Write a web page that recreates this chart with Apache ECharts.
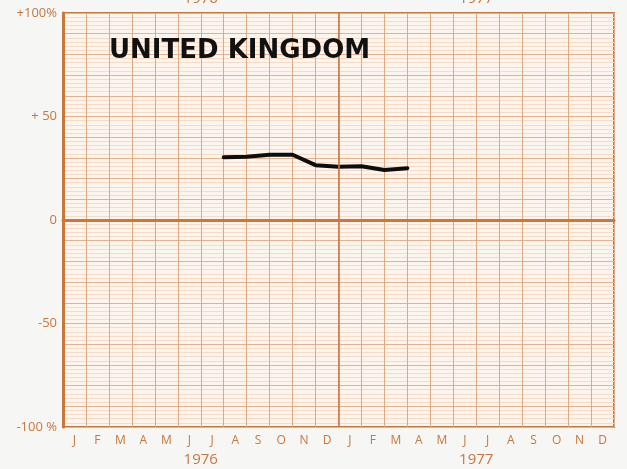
<!DOCTYPE html>
<html>
<head>
<meta charset="utf-8">
<script src="https://cdn.jsdelivr.net/npm/echarts@6/dist/echarts.min.js"></script>
<style>
  html, body { margin: 0; padding: 0; background: #f6f6f5; }
  #chart { width: 627px; height: 469px; }
</style>
</head>
<body>
<div id="chart"></div>
<script>
const months = ['J', 'F', 'M', 'A', 'M', 'J', 'J', 'A', 'S', 'O', 'N', 'D',
  'J', 'F', 'M', 'A', 'M', 'J', 'J', 'A', 'S', 'O', 'N', 'D']
const years = ['1976', '1977']
// month-end positions (months counted from Jan 1976) and percent values
const monthPos = [7, 8, 9, 10, 11, 12, 13, 14, 15]
const ukValues = [30.3, 30.6, 31.5, 31.5, 26.5, 25.7, 26, 24.2, 25]

const orange = '#c8773c'
const labelFont = 'Open Sans'

const chart = echarts.init(document.getElementById('chart'))

function yLabel(v) {
  if (v === 100) return '+100%'
  if (v === 50) return '+ 50'
  if (v === 0) return '0'
  if (v === -50) return '-50'
  if (v === -100) return '-100 %'
  return ''
}

const option = {
  backgroundColor: '#f6f6f5',
  animation: false,
  title: {
    text: 'UNITED KINGDOM',
    left: 104,
    top: 33,
    textStyle: {
      fontFamily: 'DejaVu Sans',
      fontWeight: 'bold',
      fontSize: 26,
      color: '#111',
    },
  },
  grid: {
    left: 63,
    right: 13,
    top: 13,
    bottom: 42,
    outerBoundsMode: 'none',
    containLabel: false,
    show: true,
    backgroundColor: '#fcf5ee',
    borderColor: orange,
    borderWidth: 2,
  },
  xAxis: [{
    type: 'category',
    data: months,
    boundaryGap: true,
    axisLine: { show: true, lineStyle: { color: orange, width: 3 } },
    axisTick: { show: false },
    axisLabel: { color: orange, fontFamily: labelFont, fontSize: 12, margin: 8, interval: 0 },
    splitLine: { show: true, interval: 0, lineStyle: { color: '#deaa84', width: 1 } },
  }, {
    type: 'category',
    data: years,
    position: 'bottom',
    offset: 17,
    axisLine: { show: false },
    axisTick: { show: false },
    axisLabel: { color: orange, fontFamily: labelFont, fontSize: 15, margin: 8 },
  }, {
    type: 'category',
    data: years,
    position: 'top',
    axisLine: { show: false },
    axisTick: { show: false },
    axisLabel: { color: orange, fontFamily: labelFont, fontSize: 15, margin: 7 },
  }, {
    type: 'value',
    min: 0,
    max: 24,
    show: false,
  }],
  yAxis: {
    type: 'value',
    min: -100,
    max: 100,
    interval: 10,
    axisLine: { show: true, lineStyle: { color: orange, width: 3 } },
    axisTick: { show: false },
    axisLabel: { color: orange, fontFamily: labelFont, fontSize: 13, margin: 6, formatter: yLabel },
    splitLine: { show: true, lineStyle: { color: '#e6b28e', width: 1 } },
    minorTick: { show: false, splitNumber: 5 },
    minorSplitLine: { show: true, lineStyle: { color: '#f5dcc8', width: 1 } },
  },
  series: [{
    type: 'line',
    xAxisIndex: 3,
    data: monthPos.map((m, i) => [m, ukValues[i]]),
    symbol: 'none',
    lineStyle: { color: '#0d0d0d', width: 4, cap: 'round', join: 'round' },
    markLine: {
      silent: true,
      symbol: 'none',
      label: { show: false },
      lineStyle: { color: '#c87a45', width: 1.6, type: 'solid' },
      data: [{ yAxis: 0 }, { xAxis: 12 }],
    },
  }],
}

chart.setOption(option)
</script>
</body>
</html>
